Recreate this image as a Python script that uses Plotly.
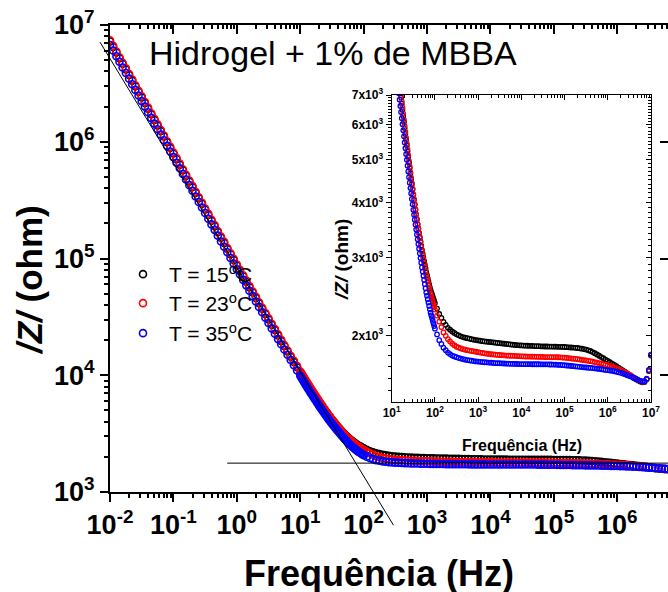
import math
import plotly.graph_objects as go

# ---------------- data ----------------
FREQ_HZ = [
    0.0100, 0.0112, 0.0126, 0.0141, 0.0158, 0.0178, 0.0200, 0.0224, 0.0251, 0.0282,
    0.0316, 0.0355, 0.0398, 0.0447, 0.0501, 0.0562, 0.0631, 0.0708, 0.0794, 0.0891,
    0.100, 0.112, 0.126, 0.141, 0.158, 0.178, 0.200, 0.224, 0.251, 0.282,
    0.316, 0.355, 0.398, 0.447, 0.501, 0.562, 0.631, 0.708, 0.794, 0.891,
    1.00, 1.12, 1.26, 1.41, 1.58, 1.78, 2.00, 2.24, 2.51, 2.82,
    3.16, 3.55, 3.98, 4.47, 5.01, 5.62, 6.31, 7.08, 7.94, 8.91,
    10.00, 10.39, 10.80, 11.22, 11.66, 12.12, 12.59, 13.09, 13.60, 14.13,
    14.68, 15.26, 15.85, 16.47, 17.11, 17.78, 18.48, 19.20, 19.95, 20.73,
    21.54, 22.39, 23.26, 24.17, 25.12, 26.10, 27.12, 28.18, 29.29, 30.43,
    31.62, 32.86, 34.15, 35.48, 36.87, 38.31, 39.81, 41.37, 42.99, 44.67,
    46.42, 48.23, 50.12, 52.08, 54.12, 56.23, 58.43, 60.72, 63.10, 65.56,
    68.13, 70.79, 73.56, 76.44, 79.43, 82.54, 85.77, 89.13, 92.61, 96.24,
    100.0, 112.0, 126.0, 141.0, 158.0, 178.0, 200.0, 224.0, 251.0, 282.0,
    316.0, 355.0, 398.0, 447.0, 501.0, 562.0, 631.0, 708.0, 794.0, 891.0,
    1.00e3, 1.12e3, 1.26e3, 1.41e3, 1.58e3, 1.78e3, 2.00e3, 2.24e3, 2.51e3, 2.82e3,
    3.16e3, 3.55e3, 3.98e3, 4.47e3, 5.01e3, 5.62e3, 6.31e3, 7.08e3, 7.94e3, 8.91e3,
    1.00e4, 1.12e4, 1.26e4, 1.41e4, 1.58e4, 1.78e4, 2.00e4, 2.24e4, 2.51e4, 2.82e4,
    3.16e4, 3.55e4, 3.98e4, 4.47e4, 5.01e4, 5.62e4, 6.31e4, 7.08e4, 7.94e4, 8.91e4,
    1.00e5, 1.12e5, 1.26e5, 1.41e5, 1.58e5, 1.78e5, 2.00e5, 2.24e5, 2.51e5, 2.82e5,
    3.16e5, 3.55e5, 3.98e5, 4.47e5, 5.01e5, 5.62e5, 6.31e5, 7.08e5, 7.94e5, 8.91e5,
    1.00e6, 1.12e6, 1.26e6, 1.41e6, 1.58e6, 1.78e6, 2.00e6, 2.24e6, 2.51e6, 2.82e6,
    3.16e6, 3.55e6, 3.98e6, 4.47e6, 5.01e6, 5.62e6, 6.31e6, 7.08e6, 7.94e6, 8.91e6,
    1.00e7,
]

Z_15C = [
    7.24e6, 6.49e6, 5.81e6, 5.20e6, 4.66e6, 4.17e6, 3.73e6, 3.34e6, 2.99e6, 2.68e6,
    2.40e6, 2.15e6, 1.92e6, 1.72e6, 1.54e6, 1.38e6, 1.24e6, 1.11e6, 9.91e5, 8.87e5,
    7.94e5, 7.11e5, 6.37e5, 5.70e5, 5.11e5, 4.57e5, 4.09e5, 3.66e5, 3.28e5, 2.94e5,
    2.63e5, 2.36e5, 2.11e5, 1.89e5, 1.69e5, 1.51e5, 1.36e5, 1.21e5, 1.09e5, 9.73e4,
    8.71e4, 7.84e4, 7.05e4, 6.33e4, 5.69e4, 5.12e4, 4.60e4, 4.14e4, 3.72e4, 3.35e4,
    3.01e4, 2.71e4, 2.44e4, 2.19e4, 1.97e4, 1.78e4, 1.60e4, 1.44e4, 1.30e4, 1.17e4,
    10600, 10252, 9916, 9590, 9273, 8966, 8670, 8391, 8121, 7860,
    7609, 7365, 7130, 6906, 6689, 6480, 6277, 6081, 5890, 5714,
    5544, 5380, 5222, 5068, 4920, 4783, 4649, 4520, 4397, 4277,
    4160, 4054, 3951, 3850, 3754, 3661, 3570, 3490, 3412, 3335,
    3262, 3190, 3120, 3061, 3003, 2945, 2889, 2834, 2780, 2736,
    2692, 2650, 2609, 2569, 2530, 2502, 2474, 2446, 2419, 2392,
    2365, 2299, 2235, 2190, 2145, 2112, 2080, 2060, 2040, 2025,
    2010, 2000, 1990, 1982, 1975, 1970, 1965, 1960, 1955, 1951,
    1948, 1944, 1940, 1937, 1935, 1932, 1930, 1927, 1925, 1922,
    1920, 1917, 1915, 1912, 1910, 1907, 1905, 1902, 1900, 1898,
    1897, 1896, 1895, 1894, 1893, 1892, 1891, 1890, 1890, 1889,
    1888, 1887, 1887, 1886, 1886, 1885, 1885, 1884, 1884, 1883,
    1882, 1880, 1879, 1877, 1876, 1874, 1872, 1869, 1866, 1862,
    1857, 1850, 1843, 1833, 1822, 1810, 1798, 1786, 1775, 1762,
    1750, 1738, 1726, 1714, 1702, 1690, 1677, 1665, 1652, 1640,
    1627, 1615, 1602, 1591, 1581, 1572, 1566, 1568, 1590, 1660,
    1800,
]

Z_23C = [
    7.38e6, 6.62e6, 5.93e6, 5.30e6, 4.75e6, 4.25e6, 3.80e6, 3.41e6, 3.05e6, 2.73e6,
    2.45e6, 2.19e6, 1.96e6, 1.75e6, 1.57e6, 1.41e6, 1.26e6, 1.13e6, 1.01e6, 9.05e5,
    8.10e5, 7.25e5, 6.50e5, 5.81e5, 5.21e5, 4.66e5, 4.17e5, 3.73e5, 3.35e5, 3.00e5,
    2.68e5, 2.41e5, 2.15e5, 1.93e5, 1.72e5, 1.54e5, 1.39e5, 1.23e5, 1.11e5, 9.92e4,
    8.88e4, 7.99e4, 7.19e4, 6.46e4, 5.80e4, 5.22e4, 4.69e4, 4.22e4, 3.79e4, 3.41e4,
    3.07e4, 2.76e4, 2.49e4, 2.24e4, 2.01e4, 1.81e4, 1.63e4, 1.47e4, 1.33e4, 1.20e4,
    10800, 10438, 10088, 9750, 9422, 9106, 8800, 8514, 8237, 7970,
    7712, 7462, 7220, 6993, 6773, 6560, 6353, 6153, 5960, 5780,
    5605, 5437, 5273, 5115, 4960, 4820, 4684, 4551, 4422, 4297,
    4175, 4067, 3961, 3858, 3758, 3660, 3565, 3483, 3402, 3323,
    3246, 3171, 3097, 3035, 2974, 2914, 2855, 2798, 2742, 2696,
    2652, 2608, 2565, 2522, 2480, 2447, 2414, 2382, 2350, 2318,
    2287, 2216, 2147, 2088, 2030, 1995, 1960, 1937, 1915, 1900,
    1885, 1876, 1868, 1861, 1855, 1851, 1847, 1843, 1840, 1836,
    1832, 1828, 1825, 1821, 1818, 1815, 1812, 1810, 1808, 1806,
    1805, 1803, 1802, 1800, 1799, 1798, 1797, 1796, 1795, 1794,
    1793, 1792, 1791, 1790, 1790, 1789, 1789, 1788, 1788, 1787,
    1787, 1786, 1786, 1786, 1786, 1785, 1785, 1784, 1783, 1781,
    1780, 1778, 1776, 1773, 1771, 1768, 1766, 1763, 1760, 1757,
    1755, 1751, 1748, 1744, 1740, 1735, 1731, 1726, 1721, 1716,
    1712, 1706, 1700, 1692, 1685, 1676, 1668, 1659, 1650, 1640,
    1630, 1618, 1607, 1596, 1585, 1577, 1570, 1572, 1592, 1665,
    1805,
]

Z_35C = [
    6.73e6, 6.04e6, 5.40e6, 4.84e6, 4.33e6, 3.88e6, 3.47e6, 3.11e6, 2.78e6, 2.49e6,
    2.23e6, 2.00e6, 1.79e6, 1.60e6, 1.43e6, 1.28e6, 1.15e6, 1.03e6, 9.22e5, 8.25e5,
    7.38e5, 6.61e5, 5.92e5, 5.30e5, 4.75e5, 4.25e5, 3.80e5, 3.40e5, 3.05e5, 2.73e5,
    2.45e5, 2.19e5, 1.96e5, 1.76e5, 1.57e5, 1.40e5, 1.26e5, 1.13e5, 1.01e5, 9.05e4,
    8.10e4, 7.29e4, 6.56e4, 5.89e4, 5.29e4, 4.76e4, 4.28e4, 3.85e4, 3.46e4, 3.11e4,
    2.80e4, 2.52e4, 2.27e4, 2.04e4, 1.84e4, 1.66e4, 1.50e4, 1.35e4, 1.22e4, 1.10e4,
    9900, 9564, 9240, 8927, 8624, 8332, 8050, 7790, 7539, 7295,
    7059, 6831, 6610, 6404, 6204, 6011, 5823, 5642, 5466, 5304,
    5146, 4993, 4844, 4700, 4560, 4433, 4309, 4189, 4072, 3959,
    3848, 3750, 3655, 3562, 3472, 3384, 3298, 3219, 3141, 3066,
    2992, 2920, 2850, 2788, 2728, 2669, 2611, 2555, 2500, 2457,
    2414, 2372, 2331, 2290, 2250, 2219, 2188, 2158, 2128, 2099,
    2070, 2009, 1950, 1912, 1875, 1851, 1828, 1814, 1800, 1792,
    1785, 1778, 1772, 1767, 1762, 1758, 1755, 1752, 1749, 1746,
    1744, 1742, 1740, 1738, 1737, 1735, 1734, 1732, 1731, 1730,
    1729, 1728, 1727, 1726, 1725, 1724, 1724, 1723, 1723, 1722,
    1722, 1721, 1721, 1721, 1721, 1720, 1720, 1720, 1720, 1719,
    1719, 1719, 1719, 1718, 1718, 1717, 1716, 1715, 1714, 1712,
    1711, 1709, 1707, 1705, 1703, 1701, 1699, 1697, 1695, 1693,
    1691, 1689, 1688, 1686, 1684, 1681, 1679, 1676, 1673, 1670,
    1668, 1665, 1662, 1658, 1654, 1650, 1645, 1639, 1632, 1625,
    1618, 1611, 1603, 1595, 1586, 1578, 1572, 1575, 1595, 1670,
    1808,
]

assert len(FREQ_HZ) == len(Z_15C) == len(Z_23C) == len(Z_35C)

SERIES_NAMES = ["T = 15<sup>o</sup>C", "T = 23<sup>o</sup>C", "T = 35<sup>o</sup>C"]
SERIES_COLORS = ["#000000", "#ff0000", "#0000ff"]

# fitted straight lines drawn on the main panel
FIT_POWER_F = [0.00695, 296.0]
FIT_POWER_Z = [7.14e6, 519.0]
FIT_PLATEAU_F = [0.705, 6.3e6]
FIT_PLATEAU_Z = [1767.0, 1767.0]

MAIN_X_TICKS = [1e-2, 1e-1, 1e0, 1e1, 1e2, 1e3, 1e4, 1e5, 1e6]
MAIN_X_LABELS = ["10<sup>-2</sup>", "10<sup>-1</sup>", "10<sup>0</sup>", "10<sup>1</sup>",
                 "10<sup>2</sup>", "10<sup>3</sup>", "10<sup>4</sup>", "10<sup>5</sup>",
                 "10<sup>6</sup>"]
MAIN_Y_TICKS = [1e3, 1e4, 1e5, 1e6, 1e7]
MAIN_Y_LABELS = ["10<sup>3</sup>", "10<sup>4</sup>", "10<sup>5</sup>", "10<sup>6</sup>",
                 "10<sup>7</sup>"]
INSET_X_TICKS = [1e1, 1e2, 1e3, 1e4, 1e5, 1e6, 1e7]
INSET_X_LABELS = ["10<sup>1</sup>", "10<sup>2</sup>", "10<sup>3</sup>", "10<sup>4</sup>",
                  "10<sup>5</sup>", "10<sup>6</sup>", "10<sup>7</sup>"]
INSET_Y_TICKS = [2000, 3000, 4000, 5000, 6000, 7000]
INSET_Y_LABELS = ["2x10<sup>3</sup>", "3x10<sup>3</sup>", "4x10<sup>3</sup>",
                  "5x10<sup>3</sup>", "6x10<sup>3</sup>", "7x10<sup>3</sup>"]

TITLE_TEXT = "Hidrogel + 1% de MBBA"
X_TITLE = "<b>Frequência (Hz)</b>"
Y_TITLE = "<b><i>/Z/</i> (ohm)</b>"

# ---------------- styling / layout ----------------
FONT = "Arial, 'Liberation Sans', sans-serif"
W, H = 668, 592
ML, MR, MT, MB = 110, 0, 25, 100
XR = [-2.0, 6.8]
YR = [3.0, 7.0]
IXR = [1.0, 7.0]
IYR = [math.log10(1415), math.log10(7000)]
LEGEND_IDS = ["legend", "legend2", "legend3"]
LEGEND_TOPS_PX = [254, 283, 313]


def minor_log(lo, hi):
    return [m * 10.0 ** k for k in range(lo, hi) for m in range(2, 10)]


def dom(v, r):
    return (math.log10(v) - r[0]) / (r[1] - r[0])


pw = W - ML - MR
ph = H - MT - MB


def px_x(px):
    return (px - ML) / pw


def px_y(py):
    return (H - MB - py) / ph


fig = go.Figure()

for z, name, col, lg in zip([Z_15C, Z_23C, Z_35C], SERIES_NAMES, SERIES_COLORS, LEGEND_IDS):
    fig.add_trace(go.Scatter(
        x=FREQ_HZ, y=z, mode="markers", name=name, legend=lg,
        marker=dict(symbol="circle-open", size=7, color=col, line=dict(width=1.6, color=col)),
        xaxis="x", yaxis="y", hoverinfo="skip"))

for z, name, col in zip([Z_15C, Z_23C, Z_35C], SERIES_NAMES, SERIES_COLORS):
    fig.add_trace(go.Scatter(
        x=FREQ_HZ, y=z, mode="markers", name=name, showlegend=False,
        marker=dict(symbol="circle-open", size=4.5, color=col, line=dict(width=1.3, color=col)),
        xaxis="x2", yaxis="y2", hoverinfo="skip"))

# dummy traces so the mirror axes get drawn
fig.add_trace(go.Scatter(x=[None], y=[None], xaxis="x3", yaxis="y", showlegend=False, hoverinfo="skip"))
fig.add_trace(go.Scatter(x=[None], y=[None], xaxis="x", yaxis="y3", showlegend=False, hoverinfo="skip"))
fig.add_trace(go.Scatter(x=[None], y=[None], xaxis="x2", yaxis="y4", showlegend=False, hoverinfo="skip"))

# fit lines (domain refs so the line can run past the frame, as in the original)
fig.add_shape(type="line", xref="x domain", yref="y domain",
              x0=dom(FIT_POWER_F[0], XR), y0=dom(FIT_POWER_Z[0], YR),
              x1=dom(FIT_POWER_F[1], XR), y1=dom(FIT_POWER_Z[1], YR),
              line=dict(color="black", width=1))
fig.add_shape(type="line", xref="x domain", yref="y domain",
              x0=dom(FIT_PLATEAU_F[0], XR), y0=dom(FIT_PLATEAU_Z[0], YR),
              x1=min(1.0, dom(FIT_PLATEAU_F[1], XR)), y1=dom(FIT_PLATEAU_Z[1], YR),
              line=dict(color="black", width=1))

tick_main = dict(size=27, family=FONT, color="black", weight="bold")
tick_inset = dict(size=12, family=FONT, color="black", weight="bold")
common = dict(showgrid=False, zeroline=False, automargin=False, tickcolor="black")
inset_minor_y = [v for v in range(1500, 7000, 100) if v % 1000]

legends = {}
for lg, top in zip(LEGEND_IDS, LEGEND_TOPS_PX):
    legends[lg] = dict(x=px_x(117), y=px_y(top), xanchor="left", yanchor="top",
                       bgcolor="rgba(0,0,0,0)", borderwidth=0,
                       font=dict(size=21, family=FONT, color="black"), itemwidth=42)

fig.update_layout(
    width=W, height=H, autosize=False,
    margin=dict(l=ML, r=MR, t=MT, b=MB, pad=0, autoexpand=False),
    paper_bgcolor="white", plot_bgcolor="white",
    font=dict(family=FONT, color="black"),
    showlegend=True,
    xaxis=dict(type="log", range=XR, domain=[0, 1], anchor="y",
               showline=True, linecolor="black", linewidth=2,
               ticks="outside", ticklen=8, tickwidth=1.5,
               tickmode="array", tickvals=MAIN_X_TICKS, ticktext=MAIN_X_LABELS,
               tickfont=tick_main,
               minor=dict(tickvals=minor_log(-2, 7), ticks="outside", ticklen=4,
                          tickwidth=1.5, tickcolor="black", showgrid=False), **common),
    yaxis=dict(type="log", range=YR, domain=[0, 1], anchor="x",
               showline=True, linecolor="black", linewidth=2,
               ticks="outside", ticklen=8, tickwidth=1.5,
               tickmode="array", tickvals=MAIN_Y_TICKS, ticktext=MAIN_Y_LABELS,
               tickfont=tick_main,
               minor=dict(tickvals=minor_log(3, 7), ticks="outside", ticklen=4,
                          tickwidth=1.5, tickcolor="black", showgrid=False), **common),
    xaxis3=dict(type="log", range=XR, overlaying="x", side="top", anchor="y",
                showline=True, linecolor="black", linewidth=2,
                ticks="inside", ticklen=9, tickwidth=1.5,
                tickmode="array", tickvals=MAIN_X_TICKS, showticklabels=False,
                minor=dict(tickvals=minor_log(-2, 7), ticks="inside", ticklen=4,
                           tickwidth=1.5, tickcolor="black", showgrid=False), **common),
    yaxis3=dict(type="log", range=YR, overlaying="y", side="right", anchor="x",
                showline=False, ticks="inside", ticklen=8, tickwidth=1.5,
                tickmode="array", tickvals=MAIN_Y_TICKS, showticklabels=False, **common),
    xaxis2=dict(type="log", range=IXR, domain=[px_x(391.7), px_x(651)], anchor="y2",
                showline=True, linecolor="black", linewidth=1.3, mirror="ticks",
                ticks="inside", ticklen=5, tickwidth=1.2,
                tickmode="array", tickvals=INSET_X_TICKS, ticktext=INSET_X_LABELS,
                tickfont=tick_inset,
                minor=dict(tickvals=minor_log(1, 7), ticks="inside", ticklen=3,
                           tickwidth=1, tickcolor="black", showgrid=False), **common),
    yaxis2=dict(type="log", range=IYR, domain=[px_y(401.7), px_y(95)], anchor="x2",
                showline=True, linecolor="black", linewidth=1.3, mirror=True,
                ticks="outside", ticklen=5, tickwidth=1.2,
                tickmode="array", tickvals=INSET_Y_TICKS, ticktext=INSET_Y_LABELS,
                tickfont=tick_inset,
                minor=dict(tickvals=inset_minor_y, ticks="outside", ticklen=3, tickwidth=1,
                           tickcolor="black", showgrid=False), **common),
    yaxis4=dict(type="log", range=IYR, overlaying="y2", side="right", anchor="x2",
                showline=False, ticks="inside", ticklen=5, tickwidth=1.2,
                tickmode="array", tickvals=INSET_Y_TICKS, showticklabels=False,
                minor=dict(tickvals=inset_minor_y, ticks="inside", ticklen=3, tickwidth=1,
                           tickcolor="black", showgrid=False), **common),
    **legends,
)

annos = [
    dict(text=TITLE_TEXT, x=px_x(147), y=px_y(53), xanchor="left", yanchor="middle",
         font=dict(size=34, family=FONT, color="black")),
    dict(text=X_TITLE, x=px_x(379), y=px_y(573), xanchor="center", yanchor="middle",
         font=dict(size=36, family=FONT, color="black")),
    dict(text=Y_TITLE, x=px_x(29), y=px_y(280), xanchor="center", yanchor="middle",
         textangle=-90, font=dict(size=35, family=FONT, color="black")),
    dict(text=X_TITLE, x=px_x(522), y=px_y(445), xanchor="center", yanchor="middle",
         font=dict(size=16, family=FONT, color="black")),
    dict(text=Y_TITLE, x=px_x(341), y=px_y(260), xanchor="center", yanchor="middle",
         textangle=-90, font=dict(size=19, family=FONT, color="black")),
]
for a in annos:
    fig.add_annotation(xref="paper", yref="paper", showarrow=False, **a)

fig.write_html("out.html")
